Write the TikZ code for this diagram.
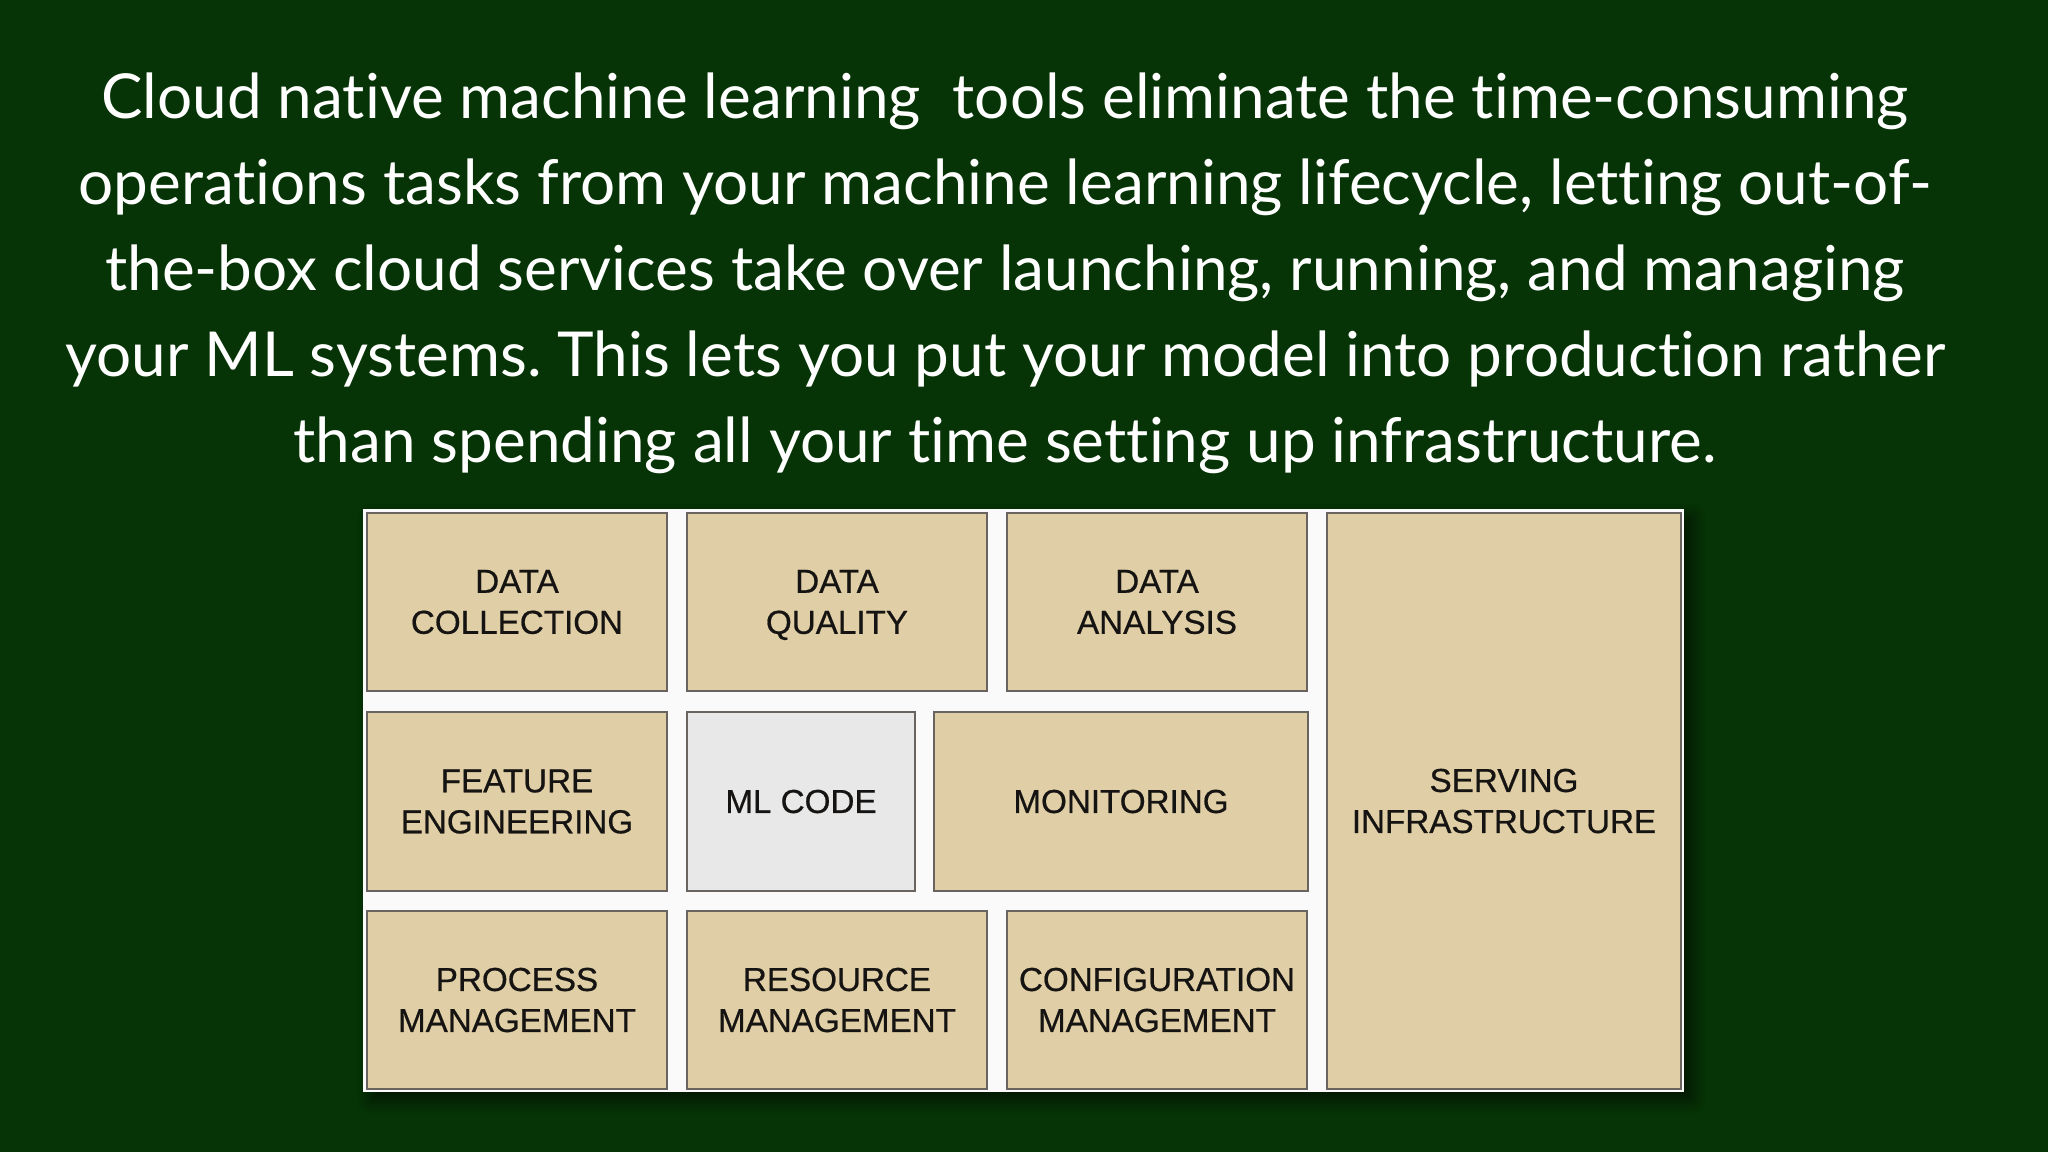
\documentclass[tikz,border=0pt]{standalone}
\usepackage{fontspec}
\setmainfont{Lato}[Ligatures={NoCommon}]
\newfontfamily\boxfont{Liberation Sans}[FakeBold=0.6]
\usetikzlibrary{shadows.blur}
\frenchspacing
\definecolor{slidegreen}{RGB}{6,52,6}
\definecolor{stagetan}{RGB}{224,207,166}
\definecolor{codegray}{RGB}{232,232,232}
\definecolor{edgegray}{RGB}{105,100,96}
\definecolor{paneltone}{RGB}{250,250,250}
\definecolor{inkdark}{RGB}{22,20,18}
\tikzset{
  headline/.style={anchor=base, text=white, inner sep=0pt, font=\fontsize{31}{43}\selectfont},
  panel/.style={fill=paneltone, blur shadow={shadow xshift=4pt, shadow yshift=-4pt,
    shadow blur radius=7pt, shadow blur steps=10, shadow opacity=60}},
  stage/.style={draw=edgegray, line width=1pt, fill=stagetan, align=center, text=inkdark,
    inner sep=0pt, font=\boxfont\fontsize{16.6}{20.5}\selectfont},
  corestage/.style={stage, fill=codegray}
}
\begin{document}
\begin{tikzpicture}[x=0.5pt, y=-0.5pt]
  \fill[slidegreen] (0,0) rectangle (2048,1152);
  \useasboundingbox (0,0) rectangle (2048,1152);

  % headline
  \node[headline] (line1) at (1005,118) {Cloud native machine learning\ \ tools eliminate the time-consuming};
  \node[headline] (line2) at (1005,204) {operations tasks from your machine learning lifecycle, letting out-of-};
  \node[headline] (line3) at (1005,290) {the-box cloud services take over launching, running, and managing};
  \node[headline] (line4) at (1005,376) {your ML systems. This lets you put your model into production rather};
  \node[headline] (line5) at (1005,462) {than spending all your time setting up infrastructure.};

  % board
  \path[panel] (363,509) rectangle (1684,1092);

  \node[stage, minimum width=150pt, minimum height=89pt] (collect) at (517,602) {DATA\\COLLECTION};
  \node[stage, minimum width=150pt, minimum height=89pt] (quality) at (837,602) {DATA\\\smash{Q}UALITY};
  \node[stage, minimum width=150pt, minimum height=89pt] (analysis) at (1157,602) {DATA\\ANALYSIS};

  \node[stage, minimum width=150pt, minimum height=89.5pt] (feature) at (517,801.5) {FEATURE\\ENGINEERING};
  \node[corestage, minimum width=114pt, minimum height=89.5pt] (mlcode) at (801,801.5) {ML CODE};
  \node[stage, minimum width=187pt, minimum height=89.5pt] (monitor) at (1121,801.5) {MONITORING};

  \node[stage, minimum width=150pt, minimum height=89pt] (process) at (517,1000) {PROCESS\\MANAGEMENT};
  \node[stage, minimum width=150pt, minimum height=89pt] (resource) at (837,1000) {RESOURCE\\MANAGEMENT};
  \node[stage, minimum width=150pt, minimum height=89pt] (config) at (1157,1000) {CONFIGURATION\\MANAGEMENT};

  \node[stage, minimum width=177pt, minimum height=288pt] (serving) at (1504,801) {SERVING\\INFRASTRUCTURE};
\end{tikzpicture}
\end{document}
